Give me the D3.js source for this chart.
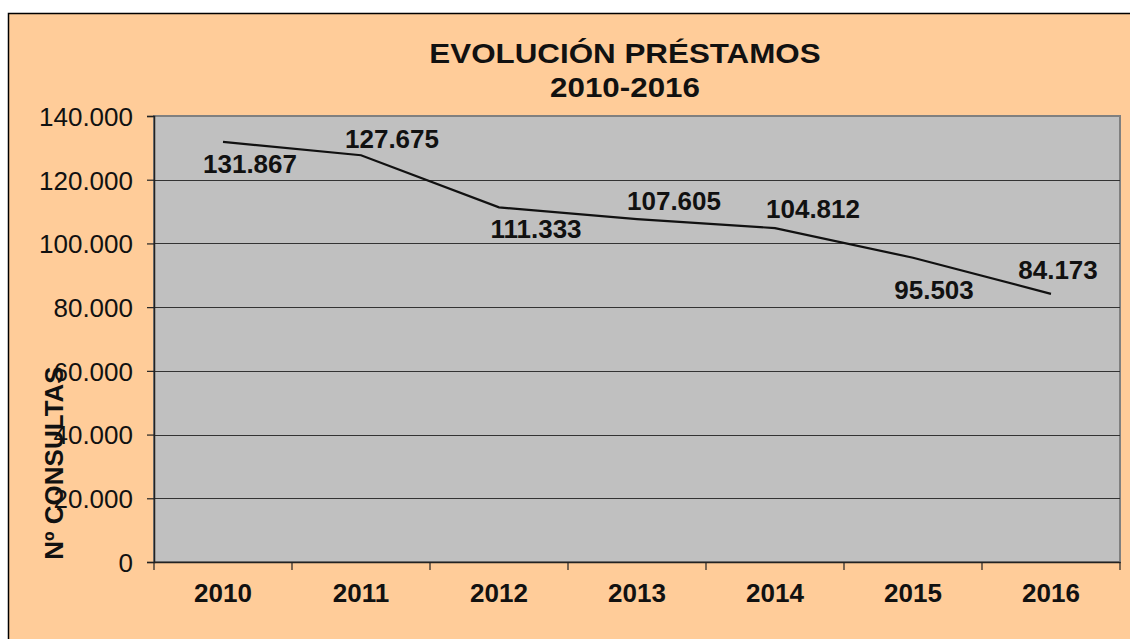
<!DOCTYPE html>
<html>
<head>
<meta charset="utf-8">
<script src="https://cdn.jsdelivr.net/npm/d3@7"></script>
<style>
  html, body { margin: 0; padding: 0; background: #fff; }
  svg { display: block; font-family: "Liberation Sans", Arial, sans-serif; }
</style>
</head>
<body>
<svg id="chart" width="1130" height="639"></svg>
<script>
// chart data
const years = ['2010', '2011', '2012', '2013', '2014', '2015', '2016'];
const prestamos = [131867, 127675, 111333, 107605, 104812, 95503, 84173];
const yTicks = [0, 20000, 40000, 60000, 80000, 100000, 120000, 140000];
const titleLines = ['EVOLUCIÓN PRÉSTAMOS', '2010-2016'];
const yTitle = 'Nº CONSULTAS';

// where each data label baseline sits relative to its point (like Excel's manual placement)
const labelOffsets = [[27, 31], [31, -7], [37, 31], [37, -9], [38, -10], [21, 41], [7, -15]];

(function () {
  const W = 1130, H = 639;
  const plot = { left: 154, top: 116, right: 1120, bottom: 562 };

  const es = d3.formatLocale({ decimal: ',', thousands: '.', grouping: [3], currency: ['', '€'] });
  const fmt = es.format(',d');

  const svg = d3.select('#chart');

  // outer frame
  svg.append('rect')
    .attr('x', 8.5).attr('y', 13.5)
    .attr('width', W + 20).attr('height', H + 20)
    .attr('fill', '#ffcc99')
    .attr('stroke', '#000').attr('stroke-width', 1.5);

  const x = d3.scaleBand().domain(years).range([plot.left, plot.right]);
  const y = d3.scaleLinear().domain([0, 140000]).range([plot.bottom, plot.top]);

  // plot area
  svg.append('rect')
    .attr('x', plot.left).attr('y', plot.top)
    .attr('width', plot.right - plot.left).attr('height', plot.bottom - plot.top)
    .attr('fill', '#c0c0c0')
    .attr('stroke', '#808080').attr('stroke-width', 2);

  // gridlines
  svg.append('g')
    .selectAll('line')
    .data(yTicks.filter(d => d > 0 && d < 140000))
    .join('line')
    .attr('x1', plot.left).attr('x2', plot.right)
    .attr('y1', d => Math.round(y(d)) + 0.5).attr('y2', d => Math.round(y(d)) + 0.5)
    .attr('stroke', '#333').attr('stroke-width', 1.2);

  // y axis
  const yAxis = svg.append('g')
    .attr('transform', `translate(${plot.left},0)`)
    .call(d3.axisLeft(y).tickValues(yTicks).tickFormat(fmt).tickSize(7).tickPadding(14));
  yAxis.select('.domain').attr('stroke', '#222').attr('stroke-width', 1.5);
  yAxis.selectAll('.tick line').attr('stroke', '#222').attr('stroke-width', 1.2);
  yAxis.selectAll('.tick text')
    .attr('fill', '#111')
    .style('font-size', '26px')
    .attr('dy', '0.36em');

  // x axis, ticks at category boundaries
  const xAxis = svg.append('g')
    .attr('transform', `translate(0,${plot.bottom})`)
    .call(d3.axisBottom(x).tickSize(0).tickPadding(0));
  xAxis.select('.domain').attr('stroke', '#222').attr('stroke-width', 1.5);
  xAxis.selectAll('.tick text')
    .attr('fill', '#111')
    .attr('y', 40).attr('dy', 0)
    .style('font-size', '26px')
    .style('font-weight', 'bold');
  xAxis.selectAll('line.sep')
    .data(years.concat(['end']))
    .join('line')
    .attr('class', 'sep')
    .attr('x1', (d, i) => i < years.length ? x(d) : x.range()[1])
    .attr('x2', (d, i) => i < years.length ? x(d) : x.range()[1])
    .attr('y1', 0).attr('y2', 8)
    .attr('stroke', '#222').attr('stroke-width', 1.2);

  // line
  const line = d3.line()
    .x((d, i) => x(years[i]) + x.bandwidth() / 2)
    .y(d => y(d));
  svg.append('path')
    .datum(prestamos)
    .attr('d', line)
    .attr('fill', 'none')
    .attr('stroke', '#111')
    .attr('stroke-width', 2.2);

  // data labels
  svg.append('g')
    .selectAll('text')
    .data(prestamos)
    .join('text')
    .attr('x', (d, i) => x(years[i]) + x.bandwidth() / 2 + labelOffsets[i][0])
    .attr('y', (d, i) => y(d) + labelOffsets[i][1])
    .attr('text-anchor', 'middle')
    .attr('fill', '#111')
    .style('font-size', '26px')
    .style('font-weight', 'bold')
    .text(d => fmt(d));

  // title (the original glyphs are a bit wider than Liberation Sans)
  svg.append('g')
    .selectAll('text')
    .data(titleLines)
    .join('text')
    .attr('transform', (d, i) => `translate(625,${63 + i * 34}) scale(1.12,1)`)
    .attr('text-anchor', 'middle')
    .attr('fill', '#111')
    .style('font-size', '28px')
    .style('font-weight', 'bold')
    .text(d => d);

  // y axis title
  svg.append('text')
    .attr('transform', 'translate(63,463) rotate(-90)')
    .attr('text-anchor', 'middle')
    .attr('fill', '#111')
    .style('font-size', '26px')
    .style('font-weight', 'bold')
    .text(yTitle);
})();
</script>
</body>
</html>
